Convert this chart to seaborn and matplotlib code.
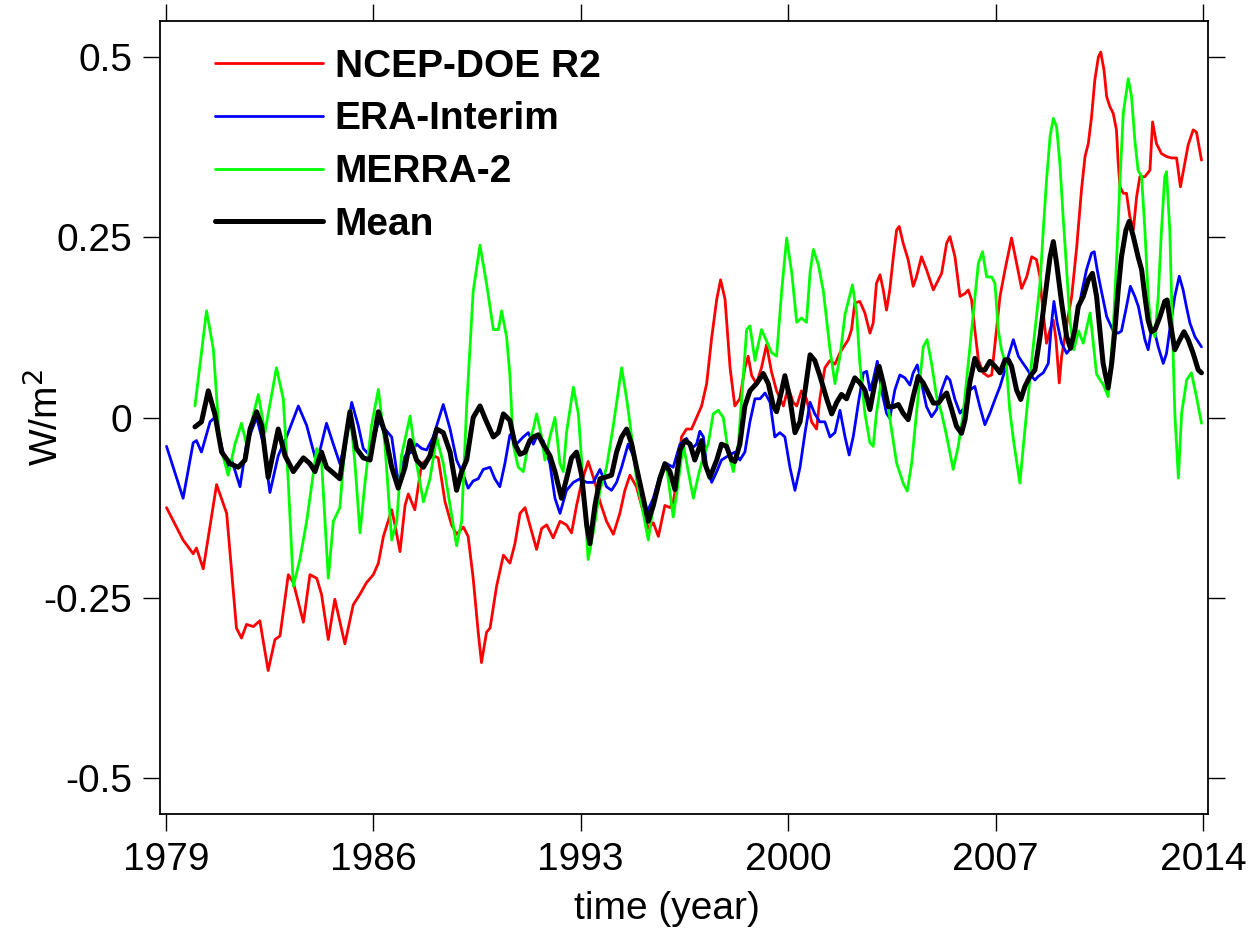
import matplotlib
matplotlib.use("Agg")
import matplotlib.pyplot as plt
import seaborn as sns
import pandas as pd

# ---------------- data ----------------
ncep_year = [1979.02, 1979.58, 1979.92, 1980.03, 1980.26, 1980.71, 1981.05, 1981.38, 1981.55, 1981.72,
             1981.95, 1982.17, 1982.45, 1982.68, 1982.85, 1983.13, 1983.30, 1983.64, 1983.86, 1984.09,
             1984.25, 1984.48, 1984.70, 1985.04, 1985.32, 1985.55, 1985.77, 1986.00, 1986.17, 1986.34,
             1986.50, 1986.62, 1986.73, 1986.90, 1987.07, 1987.18, 1987.40, 1987.63, 1987.80, 1988.02,
             1988.19, 1988.42, 1988.64, 1988.81, 1989.04, 1989.20, 1989.37, 1989.54, 1989.65, 1989.82,
             1989.94, 1990.16, 1990.39, 1990.61, 1990.78, 1990.95, 1991.12, 1991.28, 1991.51, 1991.68,
             1991.85, 1992.07, 1992.30, 1992.52, 1992.69, 1992.86, 1993.03, 1993.25, 1993.48, 1993.65,
             1993.87, 1994.10, 1994.32, 1994.49, 1994.66, 1994.88, 1995.05, 1995.28, 1995.45, 1995.62,
             1995.84, 1996.01, 1996.12, 1996.24, 1996.40, 1996.57, 1996.74, 1996.91, 1997.08, 1997.25,
             1997.42, 1997.59, 1997.72, 1997.87, 1998.04, 1998.20, 1998.37, 1998.54, 1998.65, 1998.77,
             1998.93, 1999.10, 1999.27, 1999.44, 1999.61, 1999.84, 2000.00, 2000.17, 2000.29, 2000.45,
             2000.62, 2000.79, 2000.96, 2001.07, 2001.24, 2001.41, 2001.58, 2001.75, 2001.92, 2002.03,
             2002.14, 2002.25, 2002.42, 2002.59, 2002.76, 2002.87, 2002.98, 2003.10, 2003.21, 2003.32,
             2003.43, 2003.55, 2003.66, 2003.75, 2003.88, 2004.05, 2004.22, 2004.33, 2004.50, 2004.67,
             2004.90, 2005.07, 2005.18, 2005.35, 2005.46, 2005.63, 2005.80, 2005.97, 2006.08, 2006.19,
             2006.30, 2006.42, 2006.58, 2006.75, 2006.87, 2007.03, 2007.15, 2007.32, 2007.54, 2007.71,
             2007.88, 2008.05, 2008.22, 2008.38, 2008.50, 2008.55, 2008.61, 2008.72, 2008.84, 2008.95,
             2009.04, 2009.15, 2009.23, 2009.34, 2009.45, 2009.57, 2009.74, 2009.90, 2010.02, 2010.13,
             2010.24, 2010.35, 2010.47, 2010.55, 2010.66, 2010.75, 2010.86, 2010.97, 2011.08, 2011.14,
             2011.20, 2011.31, 2011.42, 2011.53, 2011.65, 2011.76, 2011.87, 2012.04, 2012.21, 2012.30,
             2012.43, 2012.60, 2012.77, 2012.94, 2013.11, 2013.24, 2013.39, 2013.50, 2013.67, 2013.78,
             2013.95]
ncep_val = [-0.125, -0.170, -0.189, -0.181, -0.210, -0.093, -0.133, -0.292, -0.306, -0.287,
            -0.290, -0.282, -0.351, -0.308, -0.303, -0.218, -0.229, -0.284, -0.218, -0.223,
            -0.245, -0.308, -0.252, -0.314, -0.260, -0.245, -0.229, -0.218, -0.202, -0.165,
            -0.144, -0.128, -0.149, -0.186, -0.122, -0.106, -0.128, -0.064, -0.059, -0.053,
            -0.056, -0.117, -0.149, -0.162, -0.152, -0.165, -0.223, -0.298, -0.340, -0.298,
            -0.292, -0.234, -0.191, -0.202, -0.175, -0.133, -0.125, -0.149, -0.183, -0.154,
            -0.149, -0.167, -0.144, -0.149, -0.160, -0.122, -0.090, -0.061, -0.090, -0.117,
            -0.144, -0.162, -0.133, -0.101, -0.080, -0.096, -0.122, -0.154, -0.146, -0.165,
            -0.122, -0.125, -0.117, -0.090, -0.027, -0.016, -0.016, 0.000, 0.016, 0.047,
            0.111, 0.164, 0.191, 0.164, 0.069, 0.016, 0.026, 0.069, 0.085, 0.058,
            0.047, 0.069, 0.101, 0.063, 0.037, 0.016, 0.042, 0.021, 0.016, 0.037,
            0.026, -0.006, -0.016, 0.026, 0.069, 0.079, 0.074, 0.090, 0.101, 0.108,
            0.122, 0.159, 0.161, 0.145, 0.117, 0.131, 0.186, 0.198, 0.177, 0.149,
            0.177, 0.223, 0.260, 0.265, 0.242, 0.219, 0.182, 0.195, 0.223, 0.205,
            0.177, 0.191, 0.200, 0.242, 0.251, 0.223, 0.168, 0.172, 0.177, 0.163,
            0.122, 0.080, 0.062, 0.057, 0.059, 0.122, 0.168, 0.205, 0.249, 0.214,
            0.179, 0.195, 0.223, 0.219, 0.195, 0.168, 0.145, 0.103, 0.122, 0.135,
            0.108, 0.048, 0.085, 0.112, 0.140, 0.168, 0.237, 0.316, 0.362, 0.380,
            0.417, 0.468, 0.500, 0.507, 0.482, 0.445, 0.431, 0.422, 0.399, 0.353,
            0.320, 0.311, 0.311, 0.279, 0.260, 0.306, 0.334, 0.334, 0.343, 0.410,
            0.380, 0.366, 0.362, 0.360, 0.360, 0.320, 0.353, 0.378, 0.399, 0.396,
            0.357]

era_year = [1979.02, 1979.58, 1979.92, 1980.03, 1980.20, 1980.49, 1980.65, 1981.05, 1981.22, 1981.50,
            1981.72, 1982.06, 1982.29, 1982.51, 1982.79, 1983.07, 1983.47, 1983.75, 1984.09, 1984.42,
            1984.65, 1984.87, 1985.04, 1985.27, 1985.49, 1985.66, 1985.89, 1986.17, 1986.39, 1986.62,
            1986.84, 1987.07, 1987.29, 1987.46, 1987.63, 1987.80, 1988.02, 1988.36, 1988.59, 1988.81,
            1989.04, 1989.20, 1989.37, 1989.54, 1989.71, 1989.94, 1990.10, 1990.27, 1990.44, 1990.61,
            1990.83, 1991.06, 1991.23, 1991.40, 1991.51, 1991.73, 1991.96, 1992.13, 1992.30, 1992.52,
            1992.75, 1992.97, 1993.20, 1993.42, 1993.65, 1993.87, 1994.04, 1994.21, 1994.38, 1994.60,
            1994.77, 1995.00, 1995.22, 1995.45, 1995.67, 1995.90, 1996.12, 1996.35, 1996.57, 1996.74,
            1996.91, 1997.02, 1997.14, 1997.25, 1997.42, 1997.59, 1997.75, 1997.98, 1998.20, 1998.37,
            1998.54, 1998.71, 1998.88, 1999.05, 1999.22, 1999.39, 1999.55, 1999.72, 1999.89, 2000.06,
            2000.23, 2000.40, 2000.57, 2000.74, 2000.90, 2001.07, 2001.24, 2001.41, 2001.58, 2001.75,
            2001.92, 2002.06, 2002.20, 2002.37, 2002.54, 2002.65, 2002.76, 2002.87, 2003.01, 2003.15,
            2003.32, 2003.43, 2003.60, 2003.77, 2003.94, 2004.11, 2004.22, 2004.36, 2004.50, 2004.67,
            2004.84, 2005.01, 2005.18, 2005.35, 2005.46, 2005.63, 2005.80, 2005.97, 2006.13, 2006.30,
            2006.47, 2006.64, 2006.81, 2006.98, 2007.15, 2007.32, 2007.43, 2007.60, 2007.77, 2007.93,
            2008.05, 2008.22, 2008.33, 2008.44, 2008.61, 2008.78, 2008.89, 2008.97, 2009.08, 2009.23,
            2009.40, 2009.57, 2009.74, 2009.90, 2010.07, 2010.24, 2010.33, 2010.43, 2010.52, 2010.75,
            2010.97, 2011.14, 2011.25, 2011.42, 2011.55, 2011.70, 2011.82, 2011.93, 2012.04, 2012.15,
            2012.26, 2012.38, 2012.49, 2012.66, 2012.77, 2012.88, 2013.05, 2013.20, 2013.33, 2013.44,
            2013.56, 2013.73, 2013.90, 2013.95]
era_val = [-0.040, -0.112, -0.035, -0.032, -0.048, -0.006, 0.000, -0.069, -0.059, -0.096,
           -0.037, 0.000, -0.037, -0.104, -0.053, -0.027, 0.016, -0.011, -0.064, -0.008,
           -0.037, -0.064, -0.037, 0.021, -0.011, -0.043, -0.053, -0.006, -0.016, -0.027,
           -0.090, -0.053, -0.048, -0.037, -0.043, -0.045, -0.027, 0.018, -0.016, -0.059,
           -0.080, -0.098, -0.088, -0.085, -0.072, -0.069, -0.085, -0.096, -0.064, -0.024,
           -0.037, -0.027, -0.021, -0.037, -0.027, -0.032, -0.064, -0.112, -0.133, -0.101,
           -0.090, -0.085, -0.090, -0.090, -0.072, -0.096, -0.101, -0.090, -0.069, -0.037,
           -0.053, -0.090, -0.133, -0.112, -0.080, -0.064, -0.069, -0.037, -0.029, -0.043,
           -0.037, -0.019, -0.027, -0.069, -0.090, -0.075, -0.059, -0.053, -0.048, -0.059,
           -0.048, -0.006, 0.026, 0.026, 0.034, 0.021, -0.027, -0.021, -0.027, -0.069,
           -0.101, -0.069, -0.021, 0.021, 0.005, -0.006, -0.006, -0.027, -0.021, 0.010,
           -0.027, -0.052, -0.026, 0.020, 0.062, 0.064, 0.038, 0.052, 0.078, 0.038,
           0.006, -0.001, 0.038, 0.059, 0.055, 0.045, 0.062, 0.073, 0.048, 0.015,
           0.001, 0.011, 0.038, 0.057, 0.052, 0.025, 0.006, 0.015, 0.038, 0.043,
           0.015, -0.010, 0.006, 0.025, 0.043, 0.066, 0.085, 0.108, 0.085, 0.075,
           0.068, 0.057, 0.052, 0.057, 0.062, 0.075, 0.131, 0.161, 0.131, 0.103,
           0.089, 0.098, 0.135, 0.172, 0.205, 0.228, 0.230, 0.205, 0.186, 0.140,
           0.120, 0.117, 0.120, 0.154, 0.182, 0.168, 0.154, 0.131, 0.108, 0.094,
           0.122, 0.117, 0.098, 0.075, 0.089, 0.122, 0.168, 0.196, 0.177, 0.154,
           0.131, 0.112, 0.101, 0.098]

merra_year = [1979.98, 1980.37, 1980.60, 1980.82, 1981.10, 1981.33, 1981.55, 1981.72, 1981.89, 1982.12,
              1982.34, 1982.73, 1982.96, 1983.13, 1983.30, 1983.52, 1983.75, 1984.09, 1984.25, 1984.48,
              1984.65, 1984.87, 1984.99, 1985.21, 1985.38, 1985.55, 1985.72, 1985.94, 1986.17, 1986.39,
              1986.62, 1986.79, 1986.95, 1987.24, 1987.46, 1987.69, 1987.91, 1988.14, 1988.36, 1988.59,
              1988.81, 1988.98, 1989.15, 1989.37, 1989.60, 1989.82, 1990.05, 1990.22, 1990.33, 1990.50,
              1990.61, 1990.72, 1990.89, 1991.06, 1991.23, 1991.40, 1991.51, 1991.68, 1991.79, 1991.96,
              1992.13, 1992.30, 1992.41, 1992.52, 1992.75, 1992.92, 1993.08, 1993.25, 1993.42, 1993.65,
              1993.87, 1994.10, 1994.38, 1994.55, 1994.72, 1994.88, 1995.11, 1995.28, 1995.45, 1995.67,
              1995.90, 1996.12, 1996.29, 1996.46, 1996.63, 1996.80, 1996.97, 1997.14, 1997.30, 1997.47,
              1997.64, 1997.81, 1997.98, 1998.15, 1998.32, 1998.43, 1998.60, 1998.71, 1998.88, 1998.99,
              1999.10, 1999.27, 1999.44, 1999.61, 1999.78, 1999.95, 2000.12, 2000.29, 2000.45, 2000.62,
              2000.74, 2000.85, 2001.02, 2001.19, 2001.41, 2001.58, 2001.75, 2001.92, 2002.17, 2002.31,
              2002.42, 2002.59, 2002.76, 2002.87, 2002.98, 2003.15, 2003.32, 2003.49, 2003.66, 2003.88,
              2004.02, 2004.17, 2004.33, 2004.56, 2004.69, 2004.84, 2005.01, 2005.18, 2005.35, 2005.57,
              2005.74, 2005.91, 2006.08, 2006.25, 2006.42, 2006.56, 2006.70, 2006.87, 2006.98, 2007.09,
              2007.20, 2007.37, 2007.48, 2007.60, 2007.82, 2007.99, 2008.10, 2008.27, 2008.50, 2008.61,
              2008.72, 2008.84, 2008.95, 2009.06, 2009.17, 2009.28, 2009.40, 2009.51, 2009.64, 2009.80,
              2009.96, 2010.19, 2010.41, 2010.64, 2010.80, 2010.97, 2011.08, 2011.20, 2011.31, 2011.48,
              2011.59, 2011.70, 2011.81, 2011.93, 2012.04, 2012.15, 2012.26, 2012.38, 2012.49, 2012.60,
              2012.71, 2012.77, 2012.88, 2012.97, 2013.05, 2013.17, 2013.28, 2013.45, 2013.61, 2013.78,
              2013.95]
merra_val = [0.016, 0.148, 0.095, -0.037, -0.080, -0.037, -0.008, -0.037, -0.006, 0.032,
             -0.021, 0.069, 0.026, -0.090, -0.234, -0.197, -0.144, -0.043, -0.059, -0.223,
             -0.144, -0.125, -0.064, 0.010, -0.064, -0.160, -0.090, -0.011, 0.039, -0.037,
             -0.170, -0.144, -0.053, 0.002, -0.064, -0.117, -0.085, -0.027, -0.064, -0.122,
             -0.178, -0.144, 0.016, 0.175, 0.239, 0.186, 0.122, 0.122, 0.148, 0.111,
             0.058, -0.037, -0.069, -0.075, -0.037, -0.016, 0.005, -0.027, -0.059, -0.027,
             0.000, -0.064, -0.075, -0.021, 0.042, 0.005, -0.090, -0.197, -0.160, -0.101,
             -0.069, -0.011, 0.069, 0.026, -0.027, -0.085, -0.133, -0.170, -0.122, -0.080,
             -0.069, -0.138, -0.090, -0.037, -0.075, -0.112, -0.080, -0.053, -0.037, 0.005,
             0.010, 0.000, -0.048, -0.075, -0.037, 0.026, 0.122, 0.127, 0.079, 0.101,
             0.122, 0.106, 0.090, 0.085, 0.175, 0.249, 0.201, 0.132, 0.138, 0.132,
             0.201, 0.233, 0.212, 0.175, 0.095, 0.047, 0.085, 0.143, 0.184, 0.145,
             0.075, 0.006, -0.035, -0.040, 0.006, 0.052, 0.029, -0.017, -0.063, -0.091,
             -0.102, -0.063, 0.006, 0.098, 0.108, 0.075, 0.029, 0.006, -0.026, -0.072,
             -0.040, 0.006, 0.075, 0.145, 0.214, 0.230, 0.195, 0.195, 0.186, 0.122,
             0.094, 0.070, 0.010, -0.030, -0.091, -0.017, 0.029, 0.098, 0.186, 0.260,
             0.329, 0.390, 0.415, 0.403, 0.353, 0.279, 0.205, 0.135, 0.094, 0.120,
             0.103, 0.145, 0.060, 0.045, 0.029, 0.122, 0.214, 0.329, 0.422, 0.470,
             0.445, 0.385, 0.343, 0.334, 0.260, 0.168, 0.122, 0.112, 0.168, 0.260,
             0.334, 0.341, 0.260, 0.122, 0.006, -0.084, 0.006, 0.052, 0.062, 0.029,
             -0.008]

mean_year = [1979.98, 1980.20, 1980.43, 1980.65, 1980.88, 1981.16, 1981.44, 1981.67, 1981.84, 1982.06,
             1982.23, 1982.45, 1982.79, 1983.02, 1983.30, 1983.64, 1983.86, 1984.03, 1984.25, 1984.42,
             1984.65, 1984.87, 1985.04, 1985.21, 1985.43, 1985.66, 1985.89, 1986.17, 1986.39, 1986.62,
             1986.84, 1987.07, 1987.24, 1987.46, 1987.69, 1987.91, 1988.14, 1988.36, 1988.59, 1988.81,
             1988.98, 1989.15, 1989.37, 1989.60, 1989.82, 1990.05, 1990.22, 1990.39, 1990.61, 1990.78,
             1990.95, 1991.12, 1991.28, 1991.40, 1991.57, 1991.73, 1991.96, 1992.13, 1992.35, 1992.52,
             1992.69, 1992.86, 1993.03, 1993.20, 1993.31, 1993.48, 1993.65, 1993.82, 1994.04, 1994.21,
             1994.38, 1994.55, 1994.72, 1994.88, 1995.05, 1995.28, 1995.45, 1995.67, 1995.84, 1996.01,
             1996.18, 1996.35, 1996.52, 1996.69, 1996.85, 1996.97, 1997.08, 1997.19, 1997.36, 1997.59,
             1997.75, 1997.92, 1998.09, 1998.20, 1998.37, 1998.54, 1998.71, 1998.93, 1999.16, 1999.33,
             1999.50, 1999.61, 1999.78, 1999.89, 2000.06, 2000.23, 2000.40, 2000.57, 2000.74, 2000.90,
             2001.07, 2001.30, 2001.47, 2001.64, 2001.80, 2001.97, 2002.08, 2002.25, 2002.42, 2002.59,
             2002.76, 2002.93, 2003.07, 2003.21, 2003.38, 2003.55, 2003.72, 2003.88, 2004.05, 2004.22,
             2004.39, 2004.56, 2004.73, 2004.90, 2005.07, 2005.23, 2005.35, 2005.52, 2005.68, 2005.85,
             2005.97, 2006.13, 2006.30, 2006.47, 2006.64, 2006.81, 2006.98, 2007.15, 2007.32, 2007.43,
             2007.54, 2007.71, 2007.85, 2007.99, 2008.16, 2008.33, 2008.50, 2008.67, 2008.84, 2008.95,
             2009.06, 2009.23, 2009.40, 2009.53, 2009.68, 2009.79, 2009.96, 2010.13, 2010.27, 2010.41,
             2010.52, 2010.63, 2010.80, 2010.92, 2011.03, 2011.14, 2011.25, 2011.40, 2011.51, 2011.65,
             2011.81, 2011.93, 2012.04, 2012.15, 2012.26, 2012.38, 2012.55, 2012.71, 2012.79, 2012.90,
             2013.05, 2013.22, 2013.36, 2013.50, 2013.67, 2013.84, 2013.95]
mean_val = [-0.013, -0.006, 0.037, 0.005, -0.048, -0.064, -0.069, -0.059, -0.016, 0.008,
            -0.011, -0.083, -0.016, -0.053, -0.075, -0.056, -0.064, -0.075, -0.048, -0.069,
            -0.077, -0.085, -0.037, 0.008, -0.043, -0.056, -0.059, 0.008, -0.021, -0.069,
            -0.098, -0.069, -0.032, -0.059, -0.069, -0.053, -0.016, -0.021, -0.048, -0.101,
            -0.075, -0.059, 0.000, 0.016, -0.006, -0.027, -0.021, 0.005, -0.004, -0.037,
            -0.051, -0.048, -0.032, -0.027, -0.024, -0.037, -0.053, -0.075, -0.112, -0.085,
            -0.056, -0.048, -0.080, -0.149, -0.175, -0.122, -0.085, -0.083, -0.080, -0.048,
            -0.027, -0.016, -0.037, -0.069, -0.101, -0.144, -0.122, -0.085, -0.064, -0.075,
            -0.100, -0.045, -0.032, -0.037, -0.059, -0.045, -0.032, -0.064, -0.083, -0.059,
            -0.037, -0.040, -0.059, -0.061, -0.037, 0.016, 0.037, 0.047, 0.061, 0.047,
            0.016, 0.008, 0.037, 0.058, 0.026, -0.021, -0.006, 0.037, 0.087, 0.079,
            0.058, 0.026, 0.005, 0.021, 0.032, 0.026, 0.038, 0.055, 0.048, 0.038,
            0.011, 0.048, 0.071, 0.048, 0.015, 0.015, 0.018, 0.006, -0.003, 0.029,
            0.057, 0.048, 0.034, 0.020, 0.020, 0.029, 0.034, 0.011, -0.012, -0.022,
            -0.003, 0.048, 0.082, 0.066, 0.066, 0.078, 0.071, 0.062, 0.080, 0.080,
            0.071, 0.038, 0.025, 0.043, 0.057, 0.066, 0.112, 0.168, 0.223, 0.244,
            0.214, 0.159, 0.112, 0.096, 0.122, 0.154, 0.168, 0.191, 0.200, 0.168,
            0.122, 0.075, 0.041, 0.075, 0.122, 0.177, 0.223, 0.260, 0.272, 0.251,
            0.223, 0.205, 0.168, 0.135, 0.119, 0.122, 0.140, 0.161, 0.163, 0.131,
            0.094, 0.108, 0.119, 0.108, 0.089, 0.066, 0.062]

series_names = ["NCEP-DOE R2", "ERA-Interim", "MERRA-2", "Mean"]
series_colors = ["#ff0000", "#0000ff", "#00ff00", "#000000"]
series_widths = [2.0, 2.0, 2.0, 3.6]
x_ticks = [1979, 1986, 1993, 2000, 2007, 2014]
y_ticks = [-0.5, -0.25, 0, 0.25, 0.5]
y_tick_labels = ["-0.5", "-0.25", "0", "0.25", "0.5"]

# ---------------- plotting ----------------
sns.set_theme(style="ticks")
plt.rcParams["font.family"] = ["Liberation Sans", "DejaVu Sans"]
plt.rcParams["text.color"] = "black"

fig = plt.figure(figsize=(12.52, 9.34), dpi=100)
ax = fig.add_axes([160 / 1252, 1 - 814 / 934, 1048 / 1252, 793 / 934])

frames = [
    pd.DataFrame({"year": ncep_year, "val": ncep_val}),
    pd.DataFrame({"year": era_year, "val": era_val}),
    pd.DataFrame({"year": merra_year, "val": merra_val}),
    pd.DataFrame({"year": mean_year, "val": mean_val}),
]
for df, name, col, lw in zip(frames, series_names, series_colors, series_widths):
    sns.lineplot(data=df, x="year", y="val", ax=ax, color=col, linewidth=lw,
                 label=name, estimator=None, sort=False)

ax.set_xlim(1978.8, 2014.17)
ax.set_ylim(-0.55, 0.55)
ax.set_xticks(x_ticks)
ax.set_xticklabels([str(t) for t in x_ticks])
ax.set_yticks(y_ticks)
ax.set_yticklabels(y_tick_labels)

ax.tick_params(axis="both", which="major", direction="out", length=12, width=1.0,
               labelsize=28, pad=8, color="black", labelcolor="black",
               top=True, right=True, labeltop=False, labelright=False)
for sp in ax.spines.values():
    sp.set_visible(True)
    sp.set_linewidth(1.3)
    sp.set_color("black")

ax.set_xlabel("time (year)", fontsize=28, color="black")
ax.set_ylabel("W/m$^2$", fontsize=28, color="black")
ax.xaxis.set_label_coords(0.484, -0.097)
ax.yaxis.set_label_coords(-0.09, 0.5)

leg = ax.legend(loc="upper left", bbox_to_anchor=(0.0525, 0.965), frameon=False,
                prop={"weight": "bold", "size": 28}, handlelength=2.78,
                handletextpad=0.3, labelspacing=0.43, borderpad=0, borderaxespad=0,
                labelcolor="black")

fig.savefig("out.png", dpi=100)
